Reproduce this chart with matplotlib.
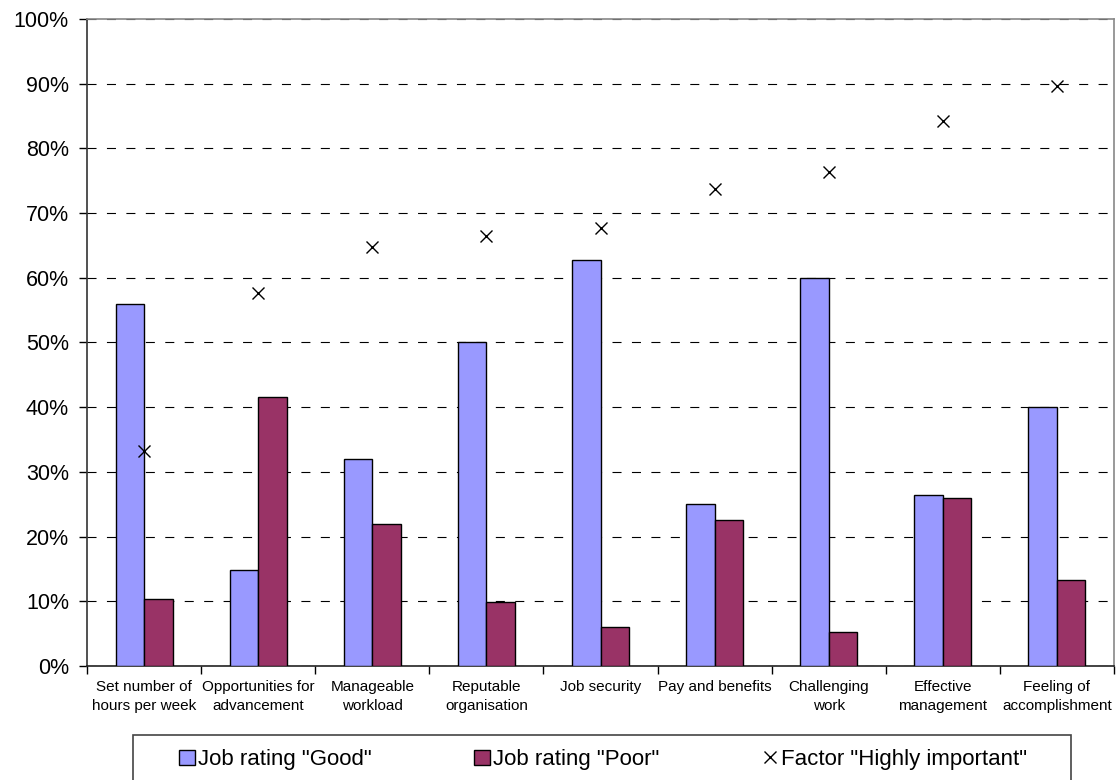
import numpy as np
import matplotlib.pyplot as plt
from matplotlib.patches import Rectangle
from matplotlib.ticker import FixedLocator

plt.rcParams['font.family'] = ['Liberation Sans', 'DejaVu Sans']
plt.rcParams['lines.scale_dashes'] = False

factors = ["Set number of\nhours per week", "Opportunities for\nadvancement", "Manageable\nworkload",
           "Reputable\norganisation", "Job security", "Pay and benefits", "Challenging\nwork",
           "Effective\nmanagement", "Feeling of\naccomplishment"]
rating_good = [56.0, 14.8, 32.0, 50.0, 62.7, 25.0, 60.0, 26.5, 40.0]
rating_poor = [10.4, 41.6, 21.9, 9.9, 6.1, 22.5, 5.3, 26.0, 13.3]
highly_important = [33.2, 57.7, 64.8, 66.5, 67.7, 73.7, 76.4, 84.3, 89.7]

fig = plt.figure(figsize=(11.17, 7.8), dpi=100)
axis = fig.add_axes([87 / 1117, 1 - 666 / 780, (1114 - 87) / 1117, (666 - 19) / 780])

x = np.arange(len(factors))
width = 0.25
good_bars = axis.bar(x - width / 2, rating_good, width, color='#9999FF', edgecolor='black', linewidth=1,
                     zorder=3, label='Job rating "Good"')
poor_bars = axis.bar(x + width / 2, rating_poor, width, color='#993366', edgecolor='black', linewidth=1,
                     zorder=3, label='Job rating "Poor"')
important_pts, = axis.plot(x, highly_important, linestyle='none', marker='x', markersize=9,
                           markeredgewidth=1, color='black', zorder=4, label='Factor "Highly important"')

axis.set_xlim(-0.5, len(factors) - 0.5)
axis.set_ylim(0, 100)
axis.set_yticks(np.arange(0, 101, 10))
axis.set_yticklabels(["{}%".format(v) for v in range(0, 101, 10)], fontsize=15.5)
axis.tick_params(axis='y', direction='out', length=6, width=1, pad=7)

axis.set_xticks(x)
axis.set_xticklabels(factors, fontsize=11, linespacing=1.45)
axis.xaxis.set_minor_locator(FixedLocator(np.arange(-0.5, len(factors), 1)))
axis.tick_params(axis='x', which='major', length=0, pad=10)
axis.tick_params(axis='x', which='minor', direction='out', length=6, width=1)

axis.yaxis.grid(True, color='black', linewidth=0.8, linestyle=(0, (6.5, 7.5)), zorder=0)
axis.set_axisbelow(True)

axis.spines['left'].set_color('#333333')
axis.spines['bottom'].set_color('#222222')
axis.spines['top'].set_color('#888888')
axis.spines['right'].set_color('#888888')
for s in axis.spines.values():
    s.set_linewidth(1.2)

# legend frame runs off the bottom edge
fig.patches.append(Rectangle((133 / 1117, -0.02), (1071 - 133) / 1117, 1 - 735 / 780 + 0.02,
                             transform=fig.transFigure, fill=False, edgecolor='#444444', linewidth=1.2))
fig.legend(handles=[good_bars, poor_bars, important_pts], loc='center', bbox_to_anchor=(0.540, 0.026),
           ncol=3, frameon=False, fontsize=16, handlelength=0.7, handleheight=0.7,
           handletextpad=0.15, columnspacing=4.6)

fig.savefig('out.png', dpi=100)
